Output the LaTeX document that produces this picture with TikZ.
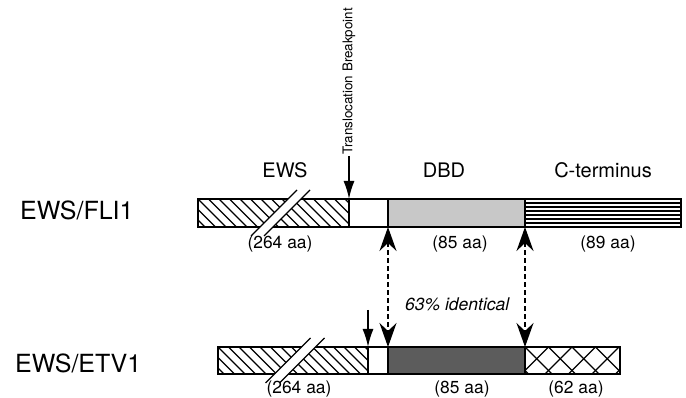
\documentclass[tikz,border=0pt]{standalone}
\usepackage{fontspec}
\setmainfont{TeX Gyre Heros}
\usetikzlibrary{arrows.meta}
\definecolor{dbdlight}{RGB}{200,200,200}
\definecolor{dbddark}{RGB}{92,92,92}
\begin{document}
\begin{tikzpicture}[x=1pt,y=-1pt,
  seg/.style={draw, line width=1.3pt, inner sep=0pt, outer sep=0pt, anchor=north west},
  hatchfill/.style={path picture={\foreach \k in {-4,...,16}{\draw[line width=1.2pt] ([xshift=\k*10.5pt]path picture bounding box.north west) -- ++(32pt,-32pt);}}},
  stripefill/.style={path picture={\foreach \k in {1,...,6}{\draw[line width=2.6pt] ([yshift=-\k*4pt]path picture bounding box.north west) -- ++(200pt,0pt);}}},
  crossfill/.style={path picture={\foreach \k in {-2,...,6}{\draw[line width=1.2pt] ([xshift=\k*23.5pt]path picture bounding box.north west) -- ++(32pt,-32pt); \draw[line width=1.2pt] ([xshift=\k*23.5pt]path picture bounding box.north west) -- ++(-32pt,-32pt);}}},
  rowlabel/.style={font=\fontsize{25}{30}\selectfont, anchor=base west, inner sep=0pt},
  head/.style={font=\fontsize{20}{24}\selectfont, anchor=base, inner sep=0pt},
  aa/.style={font=\fontsize{17.4}{21}\selectfont, anchor=base, inner sep=0pt},
  bparrow/.style={line width=1.7pt, -{Latex[length=18pt,width=11pt]}},
  dasharrow/.style={line width=1.7pt, dash pattern=on 5pt off 3pt, {Stealth[length=24pt,width=17pt,inset=8pt]}-{Stealth[length=24pt,width=17pt,inset=8pt]}},
  breakline/.style={line width=1.3pt}
]
\useasboundingbox (0,0) rectangle (686,398);
\fill[white] (0,0) rectangle (686,398);

% EWS/FLI1 row
\node[seg, hatchfill, minimum width=151pt, minimum height=28pt] (f1) at (198,199) {};
\node[seg, fill=white, minimum width=39pt, minimum height=28pt] (f2) at (349,199) {};
\node[seg, fill=dbdlight, minimum width=137pt, minimum height=28pt] (f3) at (388,199) {};
\node[seg, fill=white, stripefill, minimum width=156pt, minimum height=28pt] (f4) at (525,199) {};

% EWS/ETV1 row
\node[seg, hatchfill, minimum width=150pt, minimum height=27pt] (e1) at (218,347) {};
\node[seg, fill=white, minimum width=20pt, minimum height=27pt] (e2) at (368,347) {};
\node[seg, fill=dbddark, minimum width=137pt, minimum height=27pt] (e3) at (388,347) {};
\node[seg, fill=white, crossfill, minimum width=95pt, minimum height=27pt] (e4) at (525,347) {};

% break marks
\fill[white] (251,236) -- (297,190) -- (310,190) -- (264,236) -- cycle;
\draw[breakline] (251,236) -- (297,190) (264,236) -- (310,190);
\fill[white] (265.5,383) -- (310.5,338) -- (324.5,338) -- (279.5,383) -- cycle;
\draw[breakline] (265.5,383) -- (310.5,338) (279.5,383) -- (324.5,338);

% labels
\node[rowlabel] (l1) at (20,220) {EWS/FLI1};
\node[rowlabel] (l2) at (15,373) {EWS/ETV1};
\node[head] (hews) at (285,178) {EWS};
\node[head] (hdbd) at (444,178) {DBD};
\node[head] (hct) at (603,178) {C-terminus};
\node[aa] (a1) at (280,249) {(264 aa)};
\node[aa] (a2) at (460,249) {(85 aa)};
\node[aa] (a3) at (608,249) {(89 aa)};
\node[aa] (a4) at (299,393) {(264 aa)};
\node[aa] (a5) at (462,393) {(85 aa)};
\node[aa] (a6) at (576,393) {(62 aa)};
\node[font=\fontsize{17.5}{21}\selectfont\itshape, anchor=base west, inner sep=0pt] (ident) at (405,311) {63\% identical};
\node[font=\fontsize{13.4}{16}\selectfont, rotate=90, anchor=west, inner sep=1pt] (tb) at (349,156) {Translocation Breakpoint};

% arrows
\draw[bparrow] (tb.west) -- (f1.north east);
\coordinate (bp2) at (368,310);
\draw[bparrow] (bp2) -- (e1.north east);
\draw[dasharrow] (f3.south west) -- (e3.north west);
\draw[dasharrow] (f4.south west) -- (e4.north west);
\end{tikzpicture}
\end{document}
